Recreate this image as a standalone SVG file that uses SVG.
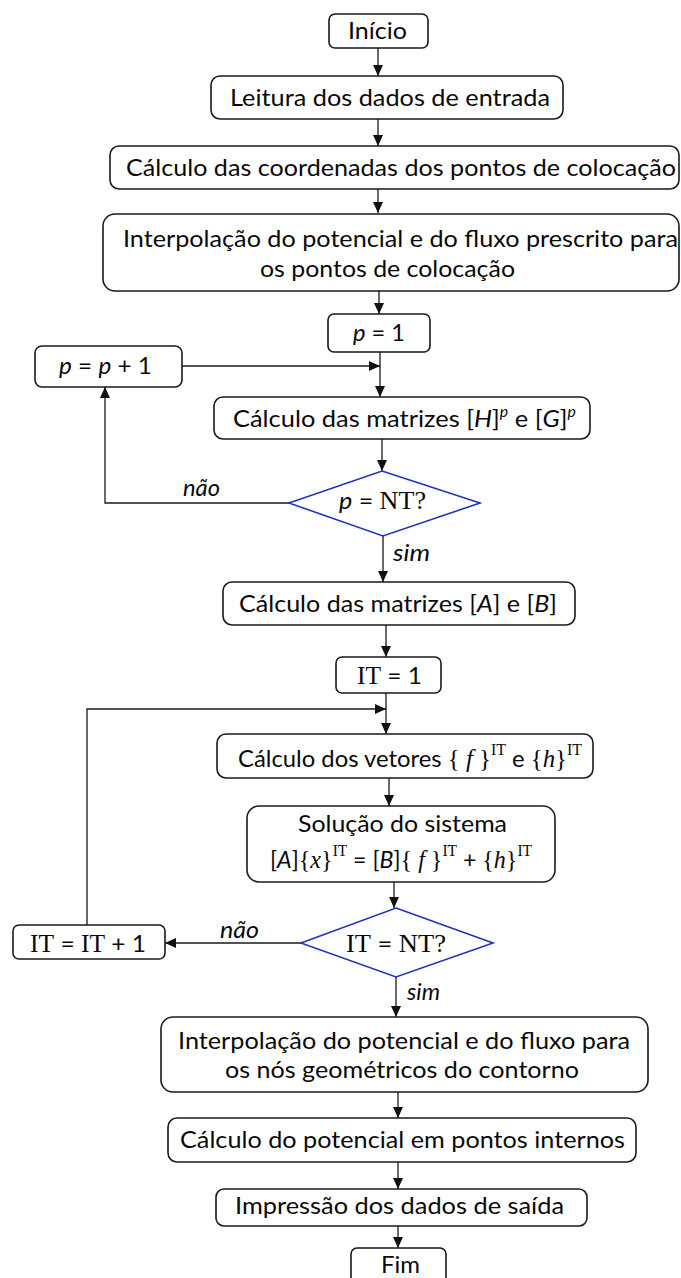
<svg xmlns="http://www.w3.org/2000/svg" width="681" height="1278" viewBox="0 0 681 1278">
  <style>
    .box { fill: #ffffff; stroke: #1a1a1a; stroke-width: 1.6; }
    .dec { fill: #ffffff; stroke: #2233bb; stroke-width: 1.6; }
    .ln { fill: none; stroke: #1a1a1a; stroke-width: 1.3; }
    .t { font-family: Lato, "Open Sans", "Liberation Sans", sans-serif; font-size: 24px; fill: #0a0a0a; }
    .i { font-style: italic; }
    .tm { font-family: "Liberation Serif", "Times New Roman", serif; font-size: 25px; }
    .sup { font-size: 15px; }
    .supt { font-family: "Liberation Serif", "Times New Roman", serif; font-size: 16px; }
  </style>
  <defs>
    <marker id="arrow" markerUnits="userSpaceOnUse" markerWidth="12" markerHeight="10" refX="11" refY="5" orient="auto">
      <path d="M0,0 L11,5 L0,10 z" fill="#111111"/>
    </marker>
  </defs>

  <!-- connectors -->
  <g id="connectors">
    <path class="ln" d="M378,48 V76" marker-end="url(#arrow)"/>
    <path class="ln" d="M378,119 V146" marker-end="url(#arrow)"/>
    <path class="ln" d="M378,189 V213" marker-end="url(#arrow)"/>
    <path class="ln" d="M379,291 V314" marker-end="url(#arrow)"/>
    <path class="ln" d="M380,352 V397" marker-end="url(#arrow)"/>
    <path class="ln" d="M182,366 H380" marker-end="url(#arrow)"/>
    <path class="ln" d="M382,439 V471" marker-end="url(#arrow)"/>
    <path class="ln" d="M289,503 H105 V387" marker-end="url(#arrow)"/>
    <path class="ln" d="M383,536 V582" marker-end="url(#arrow)"/>
    <path class="ln" d="M386,625 V657" marker-end="url(#arrow)"/>
    <path class="ln" d="M386,693 V734" marker-end="url(#arrow)"/>
    <path class="ln" d="M87,925 V709 H386" marker-end="url(#arrow)"/>
    <path class="ln" d="M389,778 V806" marker-end="url(#arrow)"/>
    <path class="ln" d="M394,882 V908" marker-end="url(#arrow)"/>
    <path class="ln" d="M301,943 H165" marker-end="url(#arrow)"/>
    <path class="ln" d="M396,977 V1017" marker-end="url(#arrow)"/>
    <path class="ln" d="M398,1092 V1118" marker-end="url(#arrow)"/>
    <path class="ln" d="M398,1162 V1189" marker-end="url(#arrow)"/>
    <path class="ln" d="M398,1226 V1248" marker-end="url(#arrow)"/>
    <text class="t i" x="183" y="496" textLength="37" lengthAdjust="spacingAndGlyphs">não</text>
    <text class="t i" x="393" y="561" textLength="37" lengthAdjust="spacingAndGlyphs">sim</text>
    <text class="t i" x="220" y="938" textLength="39" lengthAdjust="spacingAndGlyphs">não</text>
    <text class="t i" x="407" y="1000" textLength="33" lengthAdjust="spacingAndGlyphs">sim</text>
  </g>

  <g id="inicio">
    <rect class="box" x="329" y="14" width="99" height="34" rx="6"/>
    <text class="t" x="348" y="39" textLength="59" lengthAdjust="spacingAndGlyphs">Início</text>
  </g>

  <g id="leitura">
    <rect class="box" x="211" y="76" width="352" height="43" rx="9"/>
    <text class="t" x="230" y="106" textLength="320" lengthAdjust="spacingAndGlyphs">Leitura dos dados de entrada</text>
  </g>

  <g id="coordenadas">
    <rect class="box" x="110" y="146" width="569" height="43" rx="9"/>
    <text class="t" x="126" y="176" textLength="550" lengthAdjust="spacingAndGlyphs">Cálculo das coordenadas dos pontos de colocação</text>
  </g>

  <g id="interpolacao-prescrito">
    <rect class="box" x="103" y="214" width="576" height="77" rx="12"/>
    <text class="t" x="123" y="247" textLength="555" lengthAdjust="spacingAndGlyphs">Interpolação do potencial e do fluxo prescrito para</text>
    <text class="t" x="260" y="277" textLength="255" lengthAdjust="spacingAndGlyphs">os pontos de colocação</text>
  </g>

  <g id="p-inicial">
    <rect class="box" x="328" y="314" width="102" height="38" rx="6"/>
    <text class="t" x="353" y="341" textLength="52" lengthAdjust="spacingAndGlyphs"><tspan class="i">p</tspan> = 1</text>
  </g>

  <g id="p-incremento">
    <rect class="box" x="35" y="346" width="147" height="41" rx="7"/>
    <text class="t" x="59" y="374" textLength="93" lengthAdjust="spacingAndGlyphs"><tspan class="i">p</tspan> = <tspan class="i">p</tspan> + 1</text>
  </g>

  <g id="matrizes-hg">
    <rect class="box" x="214" y="397" width="376" height="42" rx="9"/>
    <text class="t" x="233" y="427" textLength="343" lengthAdjust="spacingAndGlyphs">Cálculo das matrizes [<tspan class="i">H</tspan>]<tspan class="i sup" dy="-10">p</tspan><tspan dy="10"> e [</tspan><tspan class="i">G</tspan>]<tspan class="i sup" dy="-10">p</tspan></text>
  </g>

  <g id="decisao-p">
    <polygon class="dec" points="382,471 480,503 383,536 289,503"/>
    <text class="t" x="339" y="509" textLength="87" lengthAdjust="spacingAndGlyphs"><tspan class="i">p</tspan> = <tspan class="tm">NT?</tspan></text>
  </g>

  <g id="matrizes-ab">
    <rect class="box" x="223" y="582" width="352" height="43" rx="9"/>
    <text class="t" x="239" y="612" textLength="318" lengthAdjust="spacingAndGlyphs">Cálculo das matrizes [<tspan class="i">A</tspan>] e [<tspan class="i">B</tspan>]</text>
  </g>

  <g id="it-inicial">
    <rect class="box" x="336" y="657" width="105" height="36" rx="6"/>
    <text class="t" x="357" y="684" textLength="65" lengthAdjust="spacingAndGlyphs"><tspan class="tm">IT</tspan> = 1</text>
  </g>

  <g id="vetores">
    <rect class="box" x="217" y="734" width="376" height="44" rx="9"/>
    <text class="t" x="238" y="767" textLength="344" lengthAdjust="spacingAndGlyphs">Cálculo dos vetores <tspan class="tm">{ <tspan class="i">f</tspan> }</tspan><tspan class="supt" dy="-12">IT</tspan><tspan dy="12"> e </tspan><tspan class="tm">{<tspan class="i">h</tspan>}</tspan><tspan class="supt" dy="-12">IT</tspan></text>
  </g>

  <g id="solucao">
    <rect class="box" x="247" y="806" width="308" height="76" rx="12"/>
    <text class="t" x="298" y="832" textLength="209" lengthAdjust="spacingAndGlyphs">Solução do sistema</text>
    <text class="t" x="270" y="868" textLength="262" lengthAdjust="spacingAndGlyphs">[<tspan class="i">A</tspan>]<tspan class="tm">{<tspan class="i">x</tspan>}</tspan><tspan class="supt" dy="-12">IT</tspan><tspan dy="12"> = [</tspan><tspan class="i">B</tspan>]<tspan class="tm">{ <tspan class="i">f</tspan> }</tspan><tspan class="supt" dy="-12">IT</tspan><tspan dy="12"> + </tspan><tspan class="tm">{<tspan class="i">h</tspan>}</tspan><tspan class="supt" dy="-12">IT</tspan></text>
  </g>

  <g id="decisao-it">
    <polygon class="dec" points="396,908 493,943 396,977 301,943"/>
    <text class="t" x="346" y="952" textLength="100" lengthAdjust="spacingAndGlyphs"><tspan class="tm">IT</tspan> = <tspan class="tm">NT?</tspan></text>
  </g>

  <g id="it-incremento">
    <rect class="box" x="13" y="925" width="152" height="34" rx="6"/>
    <text class="t" x="30" y="952" textLength="116" lengthAdjust="spacingAndGlyphs"><tspan class="tm">IT</tspan> = <tspan class="tm">IT</tspan> + 1</text>
  </g>

  <g id="interpolacao-contorno">
    <rect class="box" x="161" y="1017" width="487" height="75" rx="12"/>
    <text class="t" x="178" y="1049" textLength="452" lengthAdjust="spacingAndGlyphs">Interpolação do potencial e do fluxo para</text>
    <text class="t" x="225" y="1078" textLength="354" lengthAdjust="spacingAndGlyphs">os nós geométricos do contorno</text>
  </g>

  <g id="pontos-internos">
    <rect class="box" x="168" y="1118" width="468" height="44" rx="9"/>
    <text class="t" x="180" y="1148" textLength="445" lengthAdjust="spacingAndGlyphs">Cálculo do potencial em pontos internos</text>
  </g>

  <g id="impressao">
    <rect class="box" x="216" y="1189" width="371" height="37" rx="8"/>
    <text class="t" x="235" y="1214" textLength="329" lengthAdjust="spacingAndGlyphs">Impressão dos dados de saída</text>
  </g>

  <g id="fim">
    <rect class="box" x="351" y="1248" width="95" height="40" rx="6"/>
    <text class="t" x="381" y="1273" textLength="39" lengthAdjust="spacingAndGlyphs">Fim</text>
  </g>
</svg>
